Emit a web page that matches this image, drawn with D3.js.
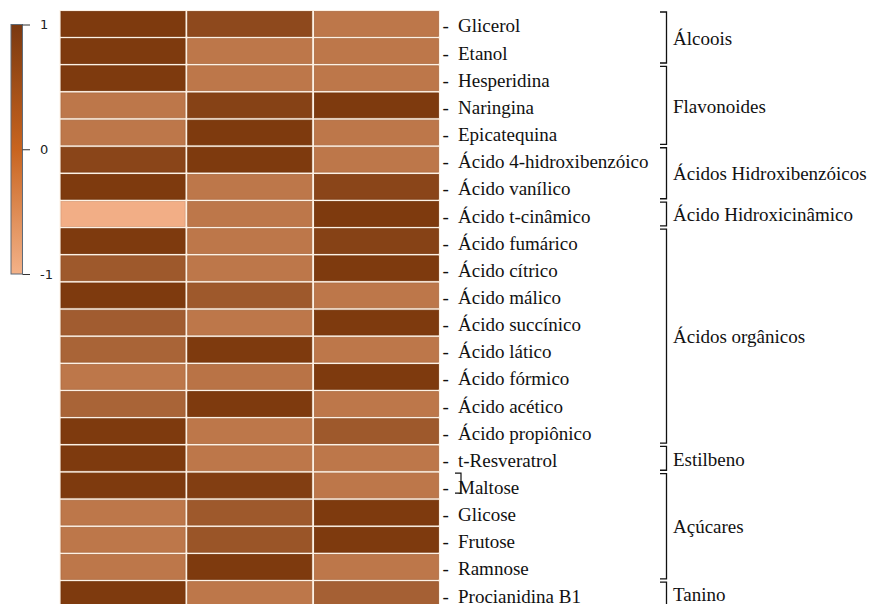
<!DOCTYPE html>
<html lang="pt">
<head>
<meta charset="UTF-8">
<title>Heatmap compostos</title>
<script src="https://cdn.jsdelivr.net/npm/d3@7"></script>
<style>
    body { margin: 0; background: #fff; }
</style>
</head>
<body>
<script>

    // data
    const compounds = ["Glicerol", "Etanol", "Hesperidina", "Naringina", "Epicatequina",
        "Ácido 4-hidroxibenzóico", "Ácido vanílico", "Ácido t-cinâmico", "Ácido fumárico",
        "Ácido cítrico", "Ácido málico", "Ácido succínico", "Ácido lático", "Ácido fórmico",
        "Ácido acético", "Ácido propiônico", "t-Resveratrol", "Maltose", "Glicose", "Frutose",
        "Ramnose", "Procianidina B1"];
    const columns = ["A", "B", "C"];
    const colA = [1, 1, 1, 0.2, 0.2, 0.85, 1, -1, 1, 0.6, 1, 0.55, 0.45, 0.2, 0.45, 1, 1, 1, 0.2, 0.2, 0.2, 1];
    const colB = [0.8, 0.2, 0.2, 0.9, 1, 1, 0.2, 0.2, 0.2, 0.2, 0.6, 0.2, 1, 0.25, 1, 0.2, 0.2, 0.95, 0.6, 0.65, 1, 0.2];
    const colC = [0.2, 0.2, 0.2, 1, 0.2, 0.2, 0.85, 1, 0.9, 1, 0.2, 1, 0.2, 1, 0.2, 0.6, 0.2, 0.2, 1, 1, 0.2, 0.5];
    const groupNames = ["Álcoois", "Flavonoides", "Ácidos Hidroxibenzóicos", "Ácido Hidroxicinâmico",
        "Ácidos orgânicos", "Estilbeno", "Açúcares", "Tanino"];
    const groupFirst = [0, 2, 5, 7, 8, 16, 17, 21];
    const groupLast = [1, 4, 6, 7, 15, 16, 20, 21];
    const legendTicks = [-1, 0, 1];

    const width = 870;
    const height = 604;
    const serif = "'Liberation Serif', 'Times New Roman', serif";

    const svg = d3.select("body").append("svg")
        .attr("width", width)
        .attr("height", height);

    const x = d3.scaleBand().domain(columns).range([61, 438.5]).paddingInner(0.021);
    const y = d3.scaleBand().domain(compounds).range([11.5, 606.5]).paddingInner(0.085);

    const cellColor = d3.scaleLinear()
        .domain([-1, 0.2, 1])
        .range(["#f2ae86", "#bd774a", "#7e3a0e"]);

    const legendColor = d3.scaleLinear()
        .domain([-1, 0, 1])
        .range(["#f3b289", "#c8641f", "#7a3910"]);

    const cols = [colA, colB, colC];
    const cells = compounds.flatMap((c, i) => columns.map((k, j) => ({c, k, v: cols[j][i]})));

    // heatmap
    svg.append("rect")
        .attr("x", x.range()[0] - 1.5)
        .attr("y", y.range()[0] - 1.5)
        .attr("width", x.range()[1] - x.range()[0] + 3)
        .attr("height", height)
        .attr("fill", "#fdf1e4");

    svg.append("g")
        .selectAll("rect")
        .data(cells)
        .join("rect")
        .attr("x", d => x(d.k))
        .attr("y", d => y(d.c))
        .attr("width", x.bandwidth())
        .attr("height", y.bandwidth())
        .attr("fill", d => cellColor(d.v))
        .attr("stroke", d => d3.color(cellColor(d.v)).darker(0.25))
        .attr("stroke-width", 0.8);

    // row labels
    const lab = svg.append("g")
        .attr("font-family", serif)
        .attr("font-size", 19)
        .attr("fill", "#111");

    lab.selectAll("text.dash")
        .data(compounds)
        .join("text")
        .attr("class", "dash")
        .attr("x", 442.5)
        .attr("y", d => y(d) + y.bandwidth() / 2)
        .attr("dy", "0.45em")
        .text("-");

    lab.selectAll("text.name")
        .data(compounds)
        .join("text")
        .attr("class", "name")
        .attr("x", 458)
        .attr("y", d => y(d) + y.bandwidth() / 2)
        .attr("dy", "0.45em")
        .text(d => d);

    // group brackets
    const groups = groupNames.map((name, i) => ({
        name,
        top: y(compounds[groupFirst[i]]) + 0.5,
        bottom: y(compounds[groupLast[i]]) + y.bandwidth() - 0.5
    }));

    const br = svg.append("g");
    br.selectAll("path")
        .data(groups)
        .join("path")
        .attr("d", d => `M660,${d.top}H666.5V${d.bottom}H660`)
        .attr("fill", "none")
        .attr("stroke", "#111")
        .attr("stroke-width", 1.3);

    br.selectAll("text")
        .data(groups)
        .join("text")
        .attr("x", 673)
        .attr("y", d => (d.top + d.bottom) / 2)
        .attr("dy", "0.38em")
        .attr("font-family", serif)
        .attr("font-size", 19)
        .attr("fill", "#111")
        .text(d => d.name);

    // stray bracket over Maltose
    const my = y("Maltose");
    svg.append("path")
        .attr("d", `M455,${my}H461V${my + 20}H455`)
        .attr("fill", "none")
        .attr("stroke", "#111")
        .attr("stroke-width", 1.2);

    // colour legend
    const ly = d3.scaleLinear().domain([-1, 1]).range([274, 24.5]);

    const grad = svg.append("defs").append("linearGradient")
        .attr("id", "lg")
        .attr("x1", 0).attr("y1", 1).attr("x2", 0).attr("y2", 0);
    grad.selectAll("stop")
        .data(d3.range(-1, 1.001, 0.1))
        .join("stop")
        .attr("offset", d => (d + 1) / 2)
        .attr("stop-color", d => legendColor(d));

    svg.append("rect")
        .attr("x", 11)
        .attr("y", ly(1))
        .attr("width", 11.5)
        .attr("height", ly(-1) - ly(1))
        .attr("fill", "url(#lg)")
        .attr("stroke", "#5f6b78")
        .attr("stroke-width", 1);

    const axis = svg.append("g")
        .attr("transform", "translate(22.5,0)")
        .call(d3.axisRight(ly).tickValues(legendTicks).tickSize(7.5).tickPadding(10).tickFormat(d => String(d)));
    axis.select(".domain").remove();
    axis.selectAll("line").attr("stroke", "#333");
    axis.selectAll("text")
        .attr("font-family", "'DejaVu Sans', Verdana, sans-serif")
        .attr("font-size", 13)
        .attr("fill", "#222");

</script>
</body>
</html>
